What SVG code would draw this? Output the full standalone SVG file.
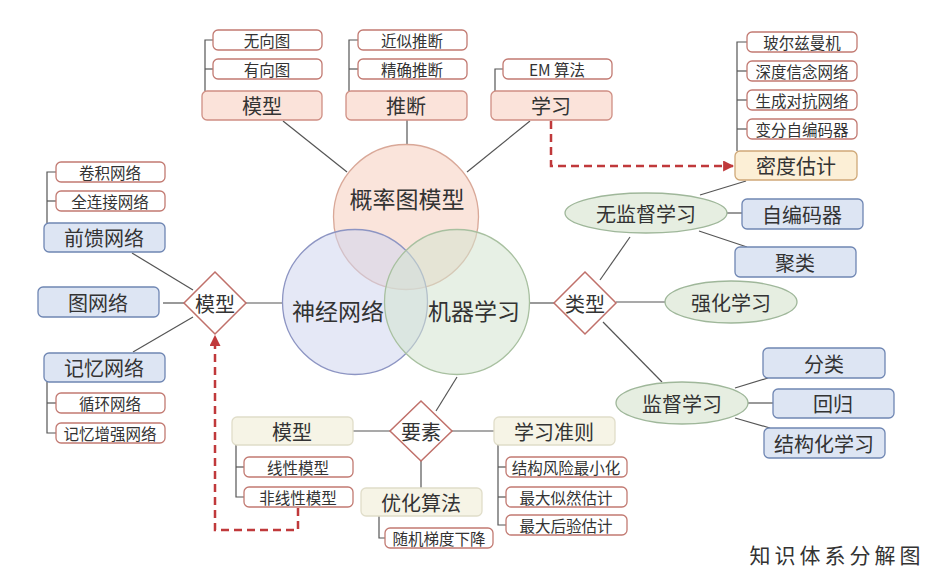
<svg xmlns="http://www.w3.org/2000/svg" width="930" height="572" viewBox="0 0 930 572">
<defs>
<style>
text{font-family:"Noto Sans CJK SC","Noto Sans",sans-serif;fill:#333;text-anchor:middle;dominant-baseline:central}
.sub rect{fill:#fff;stroke:#c27a72;stroke-width:1.3}
.sub text{font-size:15.5px}
.pink rect{fill:#fbe3da;stroke:#cf8f84;stroke-width:1.3}
.blue rect{fill:#dde5f3;stroke:#6f86b3;stroke-width:1.3}
.yel rect{fill:#fcefd6;stroke:#cfa878;stroke-width:1.3}
.cream rect{fill:#f6f4e6;stroke:#e0ddc9;stroke-width:1.3}
.big text{font-size:20px}
.ell ellipse{fill:#e6eee1;stroke:#9fb79a;stroke-width:1.3}
.ell text{font-size:20px}
.dia polygon{fill:#fff;stroke:#c0706a;stroke-width:1.5}
.dia text{font-size:20px}
.circ text{font-size:23px}
.conn line,.conn polyline{stroke:#555;stroke-width:1.2;fill:none}
.conn .dash{stroke:#c0393b;stroke-width:2.5;fill:none;stroke-dasharray:8 5}
</style>
<marker id="arr" viewBox="0 0 10 10" refX="9" refY="5" markerWidth="11" markerHeight="11" markerUnits="userSpaceOnUse" orient="auto"><path d="M0,0 L10,5 L0,10 z" fill="#c0393b"/></marker>
</defs>
<rect width="930" height="572" fill="#fff"/>

<g id="connectors" class="conn">
<line x1="283" y1="121" x2="347" y2="172"/>
<line x1="407" y1="120" x2="407" y2="145"/>
<line x1="530" y1="121" x2="467" y2="172"/>
<polyline points="213,40 205,40 205,91"/><line x1="205" y1="69" x2="213" y2="69"/>
<polyline points="358,40 349,40 349,91"/><line x1="349" y1="69" x2="358" y2="69"/>
<polyline points="503,69 495,69 495,91"/>
<polyline points="747,42 737,42 737,151"/>
<line x1="737" y1="71" x2="747" y2="71"/><line x1="737" y1="100" x2="747" y2="100"/><line x1="737" y1="129" x2="747" y2="129"/>
<line x1="746" y1="181" x2="700" y2="195"/>
<line x1="727" y1="213" x2="742" y2="213"/>
<line x1="699" y1="231" x2="747" y2="247"/>
<line x1="600" y1="280" x2="630" y2="237"/>
<line x1="530" y1="303" x2="554" y2="303"/>
<line x1="616" y1="302" x2="666" y2="302"/>
<line x1="603" y1="322" x2="662" y2="382"/>
<line x1="735" y1="388" x2="768" y2="378"/>
<line x1="748" y1="403" x2="773" y2="403"/>
<line x1="735" y1="418" x2="770" y2="428"/>
<polyline points="56,172 47,172 47,223"/><line x1="47" y1="201" x2="56" y2="201"/>
<polyline points="47,382 47,433 56,433"/><line x1="47" y1="403" x2="56" y2="403"/>
<line x1="132" y1="253" x2="193" y2="290"/>
<line x1="163" y1="303" x2="184" y2="303"/>
<line x1="133" y1="352" x2="193" y2="317"/>
<line x1="246" y1="303" x2="283" y2="303"/>
<polyline points="236,445 236,497 244,497"/><line x1="236" y1="467" x2="244" y2="467"/>
<polyline points="498,445 498,525 506,525"/><line x1="498" y1="467" x2="506" y2="467"/><line x1="498" y1="497" x2="506" y2="497"/>
<polyline points="379,516 379,538 385,538"/>
<line x1="353" y1="431" x2="390" y2="431"/>
<line x1="452" y1="431" x2="494" y2="431"/>
<line x1="436" y1="411" x2="457" y2="377"/>
<line x1="421" y1="461" x2="421" y2="488"/>
<polyline class="dash" points="551,121 551,166 733,166" marker-end="url(#arr)"/>
<polyline class="dash" points="298,508 298,530 215,530 215,336" marker-end="url(#arr)"/>
</g>

<g id="circles" class="circ">
<g id="c-pgm"><circle cx="406" cy="217" r="72.5" fill="#f6cdbd" fill-opacity="0.55" stroke="#d9a898" stroke-width="1.3"/></g>
<g id="c-nn"><circle cx="355" cy="302" r="72.5" fill="#cfd5ee" fill-opacity="0.55" stroke="#8d95c3" stroke-width="1.3"/></g>
<g id="c-ml"><circle cx="457" cy="302" r="72.5" fill="#d3e3cf" fill-opacity="0.55" stroke="#a8c0a0" stroke-width="1.3"/></g>
<text x="407" y="198">概率图模型</text>
<text x="338" y="310">神经网络</text>
<text x="474" y="310">机器学习</text>
</g>

<g id="n-wuxiang" class="sub"><rect x="213" y="30" width="109" height="20" rx="5"/><text x="267" y="40">无向图</text></g>
<g id="n-youxiang" class="sub"><rect x="213" y="59" width="109" height="20" rx="5"/><text x="267" y="69">有向图</text></g>
<g id="n-moxing-top" class="pink big"><rect x="202" y="91" width="120" height="29" rx="5"/><text x="262" y="105.5">模型</text></g>
<g id="n-jinsi" class="sub"><rect x="358" y="30" width="109" height="20" rx="5"/><text x="412" y="40">近似推断</text></g>
<g id="n-jingque" class="sub"><rect x="358" y="59" width="109" height="20" rx="5"/><text x="412" y="69">精确推断</text></g>
<g id="n-tuiduan" class="pink big"><rect x="346" y="91" width="121" height="29" rx="5"/><text x="406" y="105.5">推断</text></g>
<g id="n-em" class="sub"><rect x="503" y="59" width="109" height="20" rx="5"/><text x="557" y="69">EM 算法</text></g>
<g id="n-xuexi-top" class="pink big"><rect x="491" y="91" width="121" height="29" rx="5"/><text x="551" y="105.5">学习</text></g>

<g id="n-boltz" class="sub"><rect x="747" y="32" width="110" height="20" rx="5"/><text x="802" y="42">玻尔兹曼机</text></g>
<g id="n-dbn" class="sub"><rect x="747" y="61" width="110" height="20" rx="5"/><text x="802" y="71">深度信念网络</text></g>
<g id="n-gan" class="sub"><rect x="747" y="90" width="110" height="20" rx="5"/><text x="802" y="100">生成对抗网络</text></g>
<g id="n-vae" class="sub"><rect x="747" y="119" width="110" height="20" rx="5"/><text x="802" y="129">变分自编码器</text></g>
<g id="n-midu" class="yel big"><rect x="735" y="151" width="122" height="29" rx="5"/><text x="796" y="165.5">密度估计</text></g>
<g id="n-wujiandu" class="ell"><ellipse cx="646" cy="213" rx="81" ry="20"/><text x="646" y="213">无监督学习</text></g>
<g id="n-ae" class="blue big"><rect x="742" y="199" width="121" height="30" rx="5"/><text x="802" y="214">自编码器</text></g>
<g id="n-julei" class="blue big"><rect x="735" y="247" width="121" height="30" rx="5"/><text x="795" y="262">聚类</text></g>
<g id="n-leixing" class="dia"><polygon points="585,272 616,303 585,334 554,303"/><text x="585" y="303">类型</text></g>
<g id="n-qianghua" class="ell"><ellipse cx="731" cy="302" rx="66" ry="21"/><text x="731" y="302">强化学习</text></g>
<g id="n-jiandu" class="ell"><ellipse cx="682" cy="403" rx="66" ry="21"/><text x="682" y="403">监督学习</text></g>
<g id="n-fenlei" class="blue big"><rect x="763" y="348" width="122" height="30" rx="5"/><text x="824" y="363">分类</text></g>
<g id="n-huigui" class="blue big"><rect x="773" y="389" width="121" height="29" rx="5"/><text x="833" y="403.5">回归</text></g>
<g id="n-jiegou" class="blue big"><rect x="764" y="428" width="121" height="30" rx="5"/><text x="824" y="443">结构化学习</text></g>

<g id="n-juanji" class="sub"><rect x="56" y="162" width="109" height="20" rx="5"/><text x="110" y="172">卷积网络</text></g>
<g id="n-quanlian" class="sub"><rect x="56" y="191" width="109" height="20" rx="5"/><text x="110" y="201">全连接网络</text></g>
<g id="n-qiankui" class="blue big"><rect x="44" y="223" width="121" height="29" rx="5"/><text x="104" y="237.5">前馈网络</text></g>
<g id="n-tuwangluo" class="blue big"><rect x="38" y="287" width="121" height="30" rx="5"/><text x="98" y="302">图网络</text></g>
<g id="n-moxing-left" class="dia"><polygon points="215,272 246,303 215,334 184,303"/><text x="215" y="303">模型</text></g>
<g id="n-jiyi" class="blue big"><rect x="44" y="353" width="121" height="29" rx="5"/><text x="104" y="367.5">记忆网络</text></g>
<g id="n-xunhuan" class="sub"><rect x="56" y="393" width="109" height="20" rx="5"/><text x="110" y="403">循环网络</text></g>
<g id="n-jiyizq" class="sub"><rect x="56" y="423" width="109" height="20" rx="5"/><text x="110" y="433">记忆增强网络</text></g>

<g id="n-moxing-bot" class="cream big"><rect x="232" y="417" width="121" height="28" rx="5"/><text x="292" y="431">模型</text></g>
<g id="n-xianxing" class="sub"><rect x="244" y="457" width="109" height="20" rx="5"/><text x="298" y="467">线性模型</text></g>
<g id="n-feixianxing" class="sub"><rect x="244" y="487" width="109" height="20" rx="5"/><text x="298" y="497">非线性模型</text></g>
<g id="n-yaosu" class="dia"><polygon points="421,401 452,431 421,461 390,431"/><text x="421" y="431">要素</text></g>
<g id="n-zhunze" class="cream big"><rect x="494" y="417" width="121" height="28" rx="5"/><text x="554" y="431">学习准则</text></g>
<g id="n-jiegoufx" class="sub"><rect x="506" y="457" width="121" height="20" rx="5"/><text x="566" y="467">结构风险最小化</text></g>
<g id="n-zuidasr" class="sub"><rect x="506" y="487" width="121" height="20" rx="5"/><text x="566" y="497">最大似然估计</text></g>
<g id="n-zuidahy" class="sub"><rect x="506" y="515" width="121" height="20" rx="5"/><text x="566" y="525">最大后验估计</text></g>
<g id="n-youhua" class="cream big"><rect x="361" y="488" width="121" height="28" rx="5"/><text x="421" y="502">优化算法</text></g>
<g id="n-sgd" class="sub"><rect x="385" y="528" width="108" height="20" rx="5"/><text x="439" y="538">随机梯度下降</text></g>

<text x="837" y="554" style="font-size:21px;letter-spacing:4px">知识体系分解图</text>
</svg>
